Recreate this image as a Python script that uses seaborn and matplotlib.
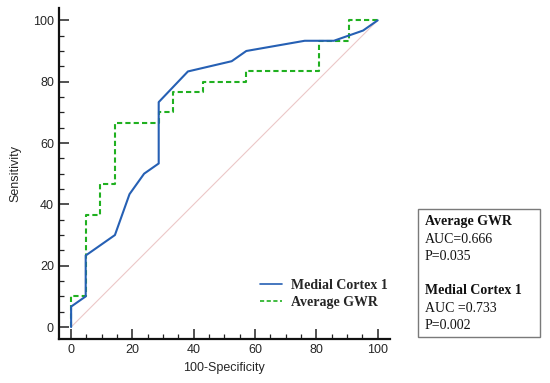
import matplotlib
matplotlib.use("Agg")
import matplotlib.pyplot as plt
from matplotlib.patches import Rectangle
from matplotlib.ticker import MultipleLocator
import seaborn as sns
import pandas as pd

# ROC points (100-Specificity, Sensitivity)
fpr_medial = [0, 0, 4.76, 4.76, 14.29, 19.05, 23.81, 28.57, 28.57, 38.10,
              52.38, 57.14, 76.19, 85.71, 95.24, 100]
tpr_medial = [0, 6.67, 10, 23.33, 30, 43.33, 50, 53.33, 73.33, 83.33,
              86.67, 90, 93.33, 93.33, 96.67, 100]

# Average GWR is a step curve (steps-pre)
fpr_gwr = [0, 4.76, 9.52, 14.29, 28.57, 33.33, 42.86, 57.14, 80.95, 90.48, 100]
tpr_gwr = [0, 10, 36.67, 46.67, 66.67, 70, 76.67, 80, 83.33, 93.33, 100]

labels = ["Medial Cortex 1", "Average GWR"]
stats_lines = [("Average GWR", True), ("AUC=0.666", False), ("P=0.035", False),
               ("Medial Cortex 1", True), ("AUC =0.733", False), ("P=0.002", False)]

blue = "#2660b4"
green = "#20b020"

sns.set_style("ticks")
plt.rcParams['font.family'] = ['Liberation Sans', 'DejaVu Sans']

fig = plt.figure(figsize=(5.5, 3.83), dpi=100)
ax = fig.add_axes([0.107, 0.114, 0.602, 0.865])

df_m = pd.DataFrame({"x": fpr_medial, "y": tpr_medial})
df_g = pd.DataFrame({"x": fpr_gwr, "y": tpr_gwr})

# diagonal reference
ax.plot([0, 100], [0, 100], color="#ecc8c8", lw=0.8, zorder=1)

sns.lineplot(data=df_m, x="x", y="y", ax=ax, estimator=None, sort=False,
             color=blue, lw=1.5, label=labels[0], zorder=3)
sns.lineplot(data=df_g, x="x", y="y", ax=ax, estimator=None, sort=False,
             color=green, lw=1.5, drawstyle="steps-pre", dashes=False,
             label=labels[1], zorder=2)
ax.lines[-1].set_dashes([2.5, 1.5])

ax.set_xlim(-4, 104)
ax.set_ylim(-4, 104)
ax.xaxis.set_major_locator(MultipleLocator(20))
ax.yaxis.set_major_locator(MultipleLocator(20))
ax.xaxis.set_minor_locator(MultipleLocator(5))
ax.yaxis.set_minor_locator(MultipleLocator(5))
ax.tick_params(which="major", direction="in", length=7, width=1.1, labelsize=9, color="#222222")
ax.tick_params(which="minor", direction="in", length=3.5, width=0.9, color="#222222")
for s in ["top", "right"]:
    ax.spines[s].set_visible(False)
for s in ["left", "bottom"]:
    ax.spines[s].set_linewidth(1.6)
    ax.spines[s].set_color("#111111")
ax.spines["left"].set_bounds(-4, 104)
ax.spines["bottom"].set_bounds(-4, 104)

ax.set_xlabel("100-Specificity", fontsize=9)
ax.set_ylabel("Sensitivity", fontsize=9, labelpad=8)

leg = ax.legend(loc="upper left", bbox_to_anchor=(0.4727, 0.272),
                bbox_transform=fig.transFigure, frameon=False,
                borderpad=0, borderaxespad=0, handlelength=1.6,
                handletextpad=0.6, labelspacing=0.3,
                prop={"family": "Liberation Serif", "weight": "bold", "size": 10})
for h in leg.get_lines():
    h.set_linewidth(1.2)

# stats box
fig.patches.append(Rectangle((0.7595, 0.1193), 0.2229, 0.335, transform=fig.transFigure,
                             fill=False, edgecolor="#7a7a7a", lw=1.0))
ys = [222, 239.5, 257, 291, 308.5, 325.5]
for (txt, bold), py in zip(stats_lines, ys):
    fig.text(0.7727, 1 - py / 383, txt, ha="left", va="center",
             family="Liberation Serif", weight="bold" if bold else "normal",
             fontsize=10, color="#111111")

fig.savefig("out.png", dpi=100)
